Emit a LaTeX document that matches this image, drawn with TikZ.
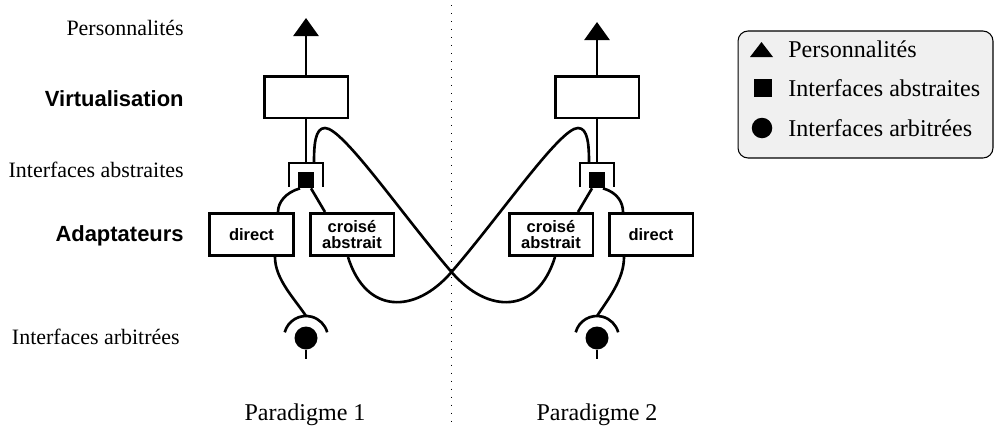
\documentclass[tikz,border=0pt]{standalone}
\usepackage{fontspec}
\setmainfont{Liberation Serif}
\setsansfont{Liberation Sans}
\usetikzlibrary{arrows.meta,calc}

\begin{document}
\begin{tikzpicture}[x=0.02cm,y=-0.02cm,
  wire/.style={line width=1.5pt},
  blk/.style={draw,line width=1.7pt,minimum width=1.68cm,minimum height=0.84cm,inner sep=0pt,align=center,
    font=\sffamily\bfseries\fontsize{9.4}{8.9}\selectfont},
  sock/.style={fill=black,minimum size=0.32cm,inner sep=0pt},
  plug/.style={circle,fill=black,minimum size=0.46cm,inner sep=0pt},
  lbl/.style={anchor=east,inner sep=0pt,font=\fontsize{12.5}{15}\selectfont},
  lblb/.style={anchor=east,inner sep=0pt,font=\sffamily\bfseries\fontsize{12.5}{15}\selectfont},
  key/.style={anchor=west,inner sep=0pt,font=\fontsize{13.7}{16}\selectfont},
  pers/.style={-{Triangle[width=0.5cm,length=0.36cm]},line width=1.5pt}]
\useasboundingbox (0,0) rectangle (994,430);

% separation
\coordinate (septop) at (451.5,5);
\coordinate (sepbot) at (451.5,425);
\draw[line width=0.7pt,dash pattern=on 0.7pt off 3.85pt] (septop) -- (sepbot);

% level labels
\node[lbl] (lPers) at (184,28) {Personnalités};
\node[lblb] (lVirt) at (184,99) {Virtualisation};
\node[lbl] (lAbs) at (184,170) {Interfaces abstraites};
\node[lblb] (lAdapt) at (184,236) {Adaptateurs};
\node[lbl] (lArb) at (180,337) {Interfaces arbitrées};

% paradigme 1
\node[blk] (virtA) at (306,97) {};
\node[sock] (sockA) at (306,180) {};
\coordinate (brkA) at ($(sockA)+(0,-17)$);
\draw[wire] ($(sockA)+(-17,7)$) -- ++(0,-24) -- ++(34,0) -- ++(0,24);
\node[blk] (dirA) at (251.5,234.5) {direct};
\node[blk] (crsA) at (352,234.5) {croisé\\abstrait};
\node[plug] (plugA) at (306,338) {};
\draw[wire] ($(plugA)+(-21.3,-5.7)$) arc[start angle=-165,end angle=-15,radius=22];
\draw[wire] (plugA.south) -- ++(0,9);
\coordinate (topA) at (306,18);
\draw[pers] (virtA) -- (topA);
\draw[wire] (virtA) -- (brkA);
\draw[wire] ($(sockA.south)+(-6,0)$) .. controls +(-14,4) and +(0,-10) .. ($(dirA.north)+(26.5,0)$);
\draw[wire] ($(sockA.south)+(5,0)$) -- ($(crsA.north)+(-27,0)$);
\draw[wire] ($(dirA.south)+(23.5,0)$) .. controls +(0,22) and +(-12,-18) .. ($(plugA)+(0,-22)$);

% paradigme 2
\node[blk] (virtB) at (597,97) {};
\node[sock] (sockB) at (597,180) {};
\coordinate (brkB) at ($(sockB)+(0,-17)$);
\draw[wire] ($(sockB)+(-17,7)$) -- ++(0,-24) -- ++(34,0) -- ++(0,24);
\node[blk] (crsB) at (551,234.5) {croisé\\abstrait};
\node[blk] (dirB) at (651,234.5) {direct};
\node[plug] (plugB) at (597,338) {};
\draw[wire] ($(plugB)+(-21.3,-5.7)$) arc[start angle=-165,end angle=-15,radius=22];
\draw[wire] (plugB.south) -- ++(0,9);
\coordinate (topB) at (597,22);
\draw[pers] (virtB) -- (topB);
\draw[wire] (virtB) -- (brkB);
\draw[wire] ($(sockB.south)+(-5,0)$) -- ($(crsB.north)+(27,0)$);
\draw[wire] ($(sockB.south)+(6,0)$) .. controls +(14,4) and +(0,-10) .. ($(dirB.north)+(-28,0)$);
\draw[wire] ($(dirB.south)+(-27,0)$) .. controls +(0,22) and +(12,-18) .. ($(plugB)+(0,-22)$);

% croisements
\coordinate (cross) at (451.5,272);
\coordinate (peakA) at (325,128);
\coordinate (peakB) at (578,128);
\draw[wire] ($(crsA.south)+(-4,0)$) .. controls +(18,58) and +(-36,42) .. (cross)
  .. controls +(50,-58) and +(-18,0) .. (peakB) .. controls +(10,0) and +(0,-18) .. ($(brkB)+(-8,0)$);
\draw[wire] ($(brkA)+(8,0)$) .. controls +(0,-18) and +(-10,0) .. (peakA)
  .. controls +(18,0) and +(-50,-58) .. (cross) .. controls +(36,42) and +(-18,58) .. ($(crsB.south)+(4,0)$);

\node[font=\fontsize{13.7}{16}\selectfont] (parA) at (305,415) {Paradigme 1};
\node[font=\fontsize{13.7}{16}\selectfont] (parB) at (597,415) {Paradigme 2};

% legende
\node[draw,rounded corners=0.2cm,fill=gray!12,line width=0.6pt,minimum width=5.1cm,minimum height=2.54cm] (legend) at (865.5,94.5) {};
\fill (750,57) -- (773,57) -- (761.5,42) -- cycle;
\node[sock,minimum size=0.36cm] (keySq) at (763,88) {};
\node[plug,minimum size=0.41cm] (keyCirc) at (762,128) {};
\node[key] (kPers) at (788,49) {Personnalités};
\node[key] (kAbs) at (788,88) {Interfaces abstraites};
\node[key] (kArb) at (788,128) {Interfaces arbitrées};
\end{tikzpicture}
\end{document}
